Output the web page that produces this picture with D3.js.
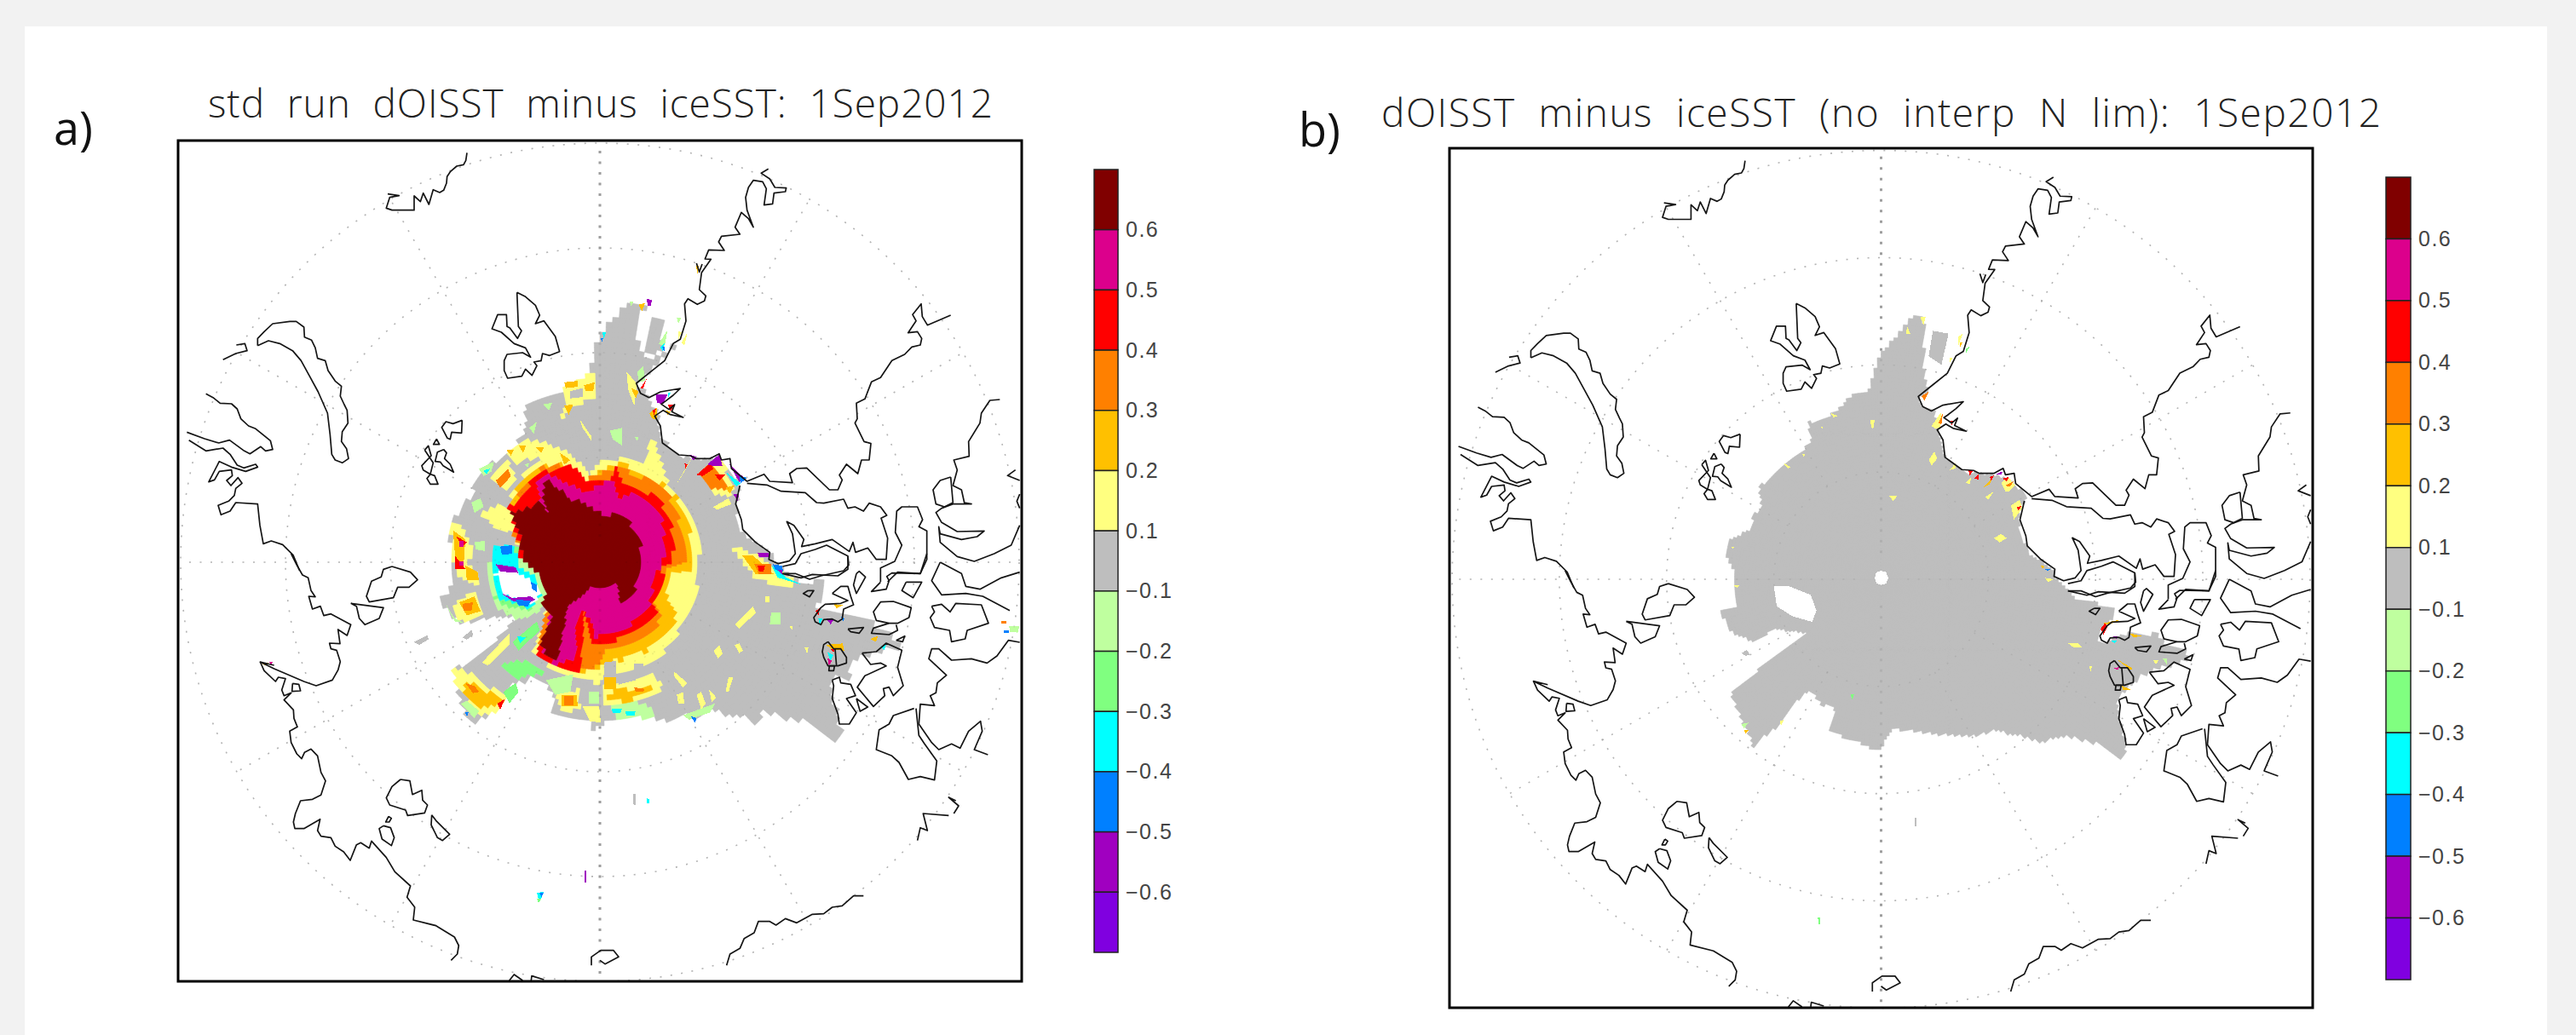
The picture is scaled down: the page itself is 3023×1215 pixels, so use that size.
<!DOCTYPE html>
<html>
<head>
<meta charset="utf-8">
<script src="https://cdn.jsdelivr.net/npm/d3@7"></script>
<style>
  body { margin: 0; background: #f2f2f2; }
  svg { display: block; }
</style>
</head>
<body>
<svg id="chart" width="3023" height="1215"></svg>
<script>
// colour bins of the bar, top to bottom
var binColors = ["#800000", "#dc008c", "#ff0000", "#ff8000", "#ffc000", "#ffff80", "#bebebe",
                 "#bfff9f", "#80ff80", "#00ffff", "#0080ff", "#a000c0", "#8000e0"];
var tickLabels = ["0.6", "0.5", "0.4", "0.3", "0.2", "0.1", "\u22120.1", "\u22120.2", "\u22120.3", "\u22120.4", "\u22120.5", "\u22120.6"];
var M = 0, P = 1, R = 2, O = 3, A = 4, Y = 5, G = 6, L = 7, N = 8, C = 9, B = 10, V = 11, U = 12;
var NONE = -1; // no data, stays white

var ringLats = [80, 70, 60, 50];
var meridians = [0, 30, 60, 90, 120, 150, 180, 210, 240, 270, 300, 330];

var titleA = "std  run  dOISST  minus  iceSST:  1Sep2012";
var titleB = "dOISST  minus  iceSST  (no  interp  N  lim):  1Sep2012";

var coastNW = [
  [1044,58,1040,85,1032,100,1008,105,985,125,974,142,972,165,962,190,948,198,925,188,910,240,890,200,880,230,858,210,858,260,780,260,760,253,772,215,805,209,765,203],
  [185,787,230,765,270,755,262,730,232,735],
  [307,737,307,712,330,688,360,660,420,652,443,652,470,672,472,707,497,718,510,745,518,782,545,790,555,825,580,862,602,880,598,915,612,945,622,965,625,1010,605,1040,602,1075,620,1100,627,1135,605,1150,580,1140,568,1120,562,1050,553,975,520,900,490,845,460,790,430,755,385,730,345,720,307,737],
  [125,907,150,920,175,940,215,942,235,960,248,995,275,1020,300,1030,352,1072,360,1103,335,1108,318,1093,280,1118,260,1108,208,1070,170,1080,120,1065,58,1042],
  [65,1070,125,1108,185,1098,210,1120,235,1158,258,1168,300,1155,307,1165,265,1180,215,1165,172,1145,135,1217,155,1210,172,1180,215,1175,218,1195,198,1212,213,1230,238,1202,252,1222,230,1240,225,1265,205,1285,168,1300,178,1333,210,1320,230,1290,307,1295,315,1370,327,1435,355,1425,395,1438,432,1475,455,1530],
  [1220,550,1225,670,1236,685,1222,712,1195,675,1185,670,1183,628,1152,628,1132,678,1165,690,1210,730,1250,745,1268,778,1240,762,1185,768,1175,790,1175,825,1187,852,1237,845,1250,820,1273,842,1290,808,1280,795,1305,790,1310,765,1335,772,1370,758,1355,705,1315,650,1285,660,1300,630,1285,595,1250,565,1220,550],
  [1027,1000,1025,1045,990,1042,985,1067,975,1063,955,1025,970,1005,995,1012,1027,1000],
  [937,1066,947,1085,926,1085,937,1066],
  [895,1105,908,1090,918,1125,885,1160,890,1175,915,1190,903,1205,915,1225,942,1225,930,1195,915,1190,925,1150,895,1105],
  [962,1103,972,1115,965,1135,985,1155,997,1183,960,1160,950,1147,932,1145,940,1112,962,1103]
];
var coastSW = [
  [425,0,445,40,465,75,485,85,495,130,510,152,487,150,500,195,528,185,540,218,565,212,635,250,622,288,590,267,597,317,560,315,565,335,585,340,598,380,590,410,570,445,513,465,470,450,365,405,316,381,365,393],
  [316,381,330,412,370,450,380,435,405,440,392,480,400,500,425,490,400,515,433,550,435,580,447,610,420,625,425,665,445,705,462,722,472,700,495,688,518,712,530,770,546,800,530,850,500,865,458,870,440,915,433,945,438,968,470,968,527,935,518,975,530,995,565,1000,580,1030,610,1050,633,1080,655,1025,670,1018,700,1037,708,1012,760,1070,790,1120,845,1170,833,1210,860,1245,855,1290,935,1310,1000,1350,1015,1380,1010,1410,988,1432],
  [430,457,452,460,458,483,428,485,430,457],
  [780,45,845,65,870,92,840,118,800,118,785,155,700,170,690,150,708,97,742,82,750,55,780,45],
  [635,175,750,190,735,228,685,250,665,228,655,185,635,175],
  [810,795,843,800,852,848,885,833,888,868,905,885,895,913,835,922,828,903,772,885,760,860,780,820,810,795],
  [768,925,778,932,770,945,758,945,768,925],
  [750,958,775,965,788,1000,778,1028,745,1005,735,968,750,958],
  [920,920,935,940,983,988,958,1010,940,1000,918,955,920,920],
  [1193,1503,1210,1482,1240,1503],
  [1270,1503,1272,1487,1315,1500],
  [1482,1450,1482,1420,1515,1397,1560,1397,1578,1420,1530,1445,1512,1432]
];
var coastNE = [
  [605,115,580,130,610,150,628,180,668,182,665,195,625,200,620,238,590,242,598,185,585,160,552,155,535,180,525,215,530,260,552,320,535,290,510,268,488,320,505,345,440,352,430,372,450,402,395,400,382,432,403,433,370,480,362,540,385,562,380,580,355,592,322,572,310,590,315,650,295,715,270,730,240,790,190,830,140,870,155,905,185,920,225,900,295,888,270,912,240,935,228,943,255,962,275,945,265,970,305,990,260,980,235,965,205,985,225,1020,232,1080,290,1122,330,1125,350,1135,400,1135,432,1118,440,1140,470,1135,475,1170,530,1215,590,1190,610,1215,690,1220,680,1188,705,1170,740,1168,820,1245,850,1245,865,1210,855,1193,880,1155,920,1188,933,1140,960,1140,966,1082,942,1075,910,1010,918,995,915,940,945,925,968,865,1000,850,1040,790,1085,768,1110,742,1140,735,1145,712,1130,688,1097,692,1125,650,1113,628,1143,590,1147,635,1165,665,1247,630],
  [352,447,362,478,372,450],
  [530,1222,600,1228,650,1250,735,1255,775,1290,800,1292,870,1278,885,1310,910,1305,940,1320,960,1292,1000,1305,1022,1335,1002,1345,1025,1415,1020,1490,985,1490,955,1450,912,1465,903,1430,890,1462,830,1420,770,1435,722,1445,730,1420,695,1370,670,1357,690,1400,700,1470,680,1495,640,1505,607,1490,610,1465,560,1430,515,1385,510,1350,490,1295,505,1230],
  [655,1515,700,1505,720,1470,770,1455,810,1440,885,1478,888,1510,870,1530,790,1548,750,1560,700,1540,655,1540],
  [1000,1569,1000,1520,1050,1497,1075,1440,1052,1395,1057,1320,1075,1305,1130,1305,1148,1350,1135,1375,1163,1390,1163,1490,1140,1540,1060,1535,1025,1569],
  [1420,927,1385,930,1355,975,1350,1010,1310,1075,1312,1127,1258,1140,1270,1175,1255,1230,1285,1245,1295,1290,1320,1295,1255,1295,1215,1310,1195,1325,1215,1360,1270,1392,1365,1390,1340,1410,1285,1420,1210,1400,1205,1375,1210,1430,1270,1480,1330,1497,1400,1470,1460,1440,1490,1370],
  [1247,1200,1210,1212,1185,1245,1195,1295,1225,1305,1255,1290,1247,1200],
  [1490,1212,1447,1195,1475,1175],
  [1490,1260,1480,1285,1490,1310]
];
var coastSE = [
  [1000,100,968,133,1020,125,1030,95,1022,80,1040,68,1140,70,1163,0],
  [655,70,720,85,760,73,850,78,885,55,885,10],
  [915,70,925,62,947,82,915,140,905,110,915,70],
  [1090,100,1145,100,1115,155,1075,130,1090,100],
  [1210,30,1285,70,1300,115,1350,125,1425,85,1490,65],
  [1210,30,1180,95,1215,145,1300,140,1360,150,1455,200],
  [1180,185,1215,178,1245,205,1265,175,1355,180,1380,245,1305,270,1298,300,1250,310,1243,270,1190,260,1175,225,1190,205,1180,185],
  [1490,312,1450,305,1410,360,1375,385,1320,370,1250,375,1205,335,1180,335,1170,370,1232,428,1200,455,1195,490,1175,500,1190,535,1140,530,1135,600,1180,665,1205,690,1250,670,1280,685,1310,625,1352,590,1358,625,1330,690,1378,708],
  [1118,545,1045,570,1030,600,995,620,985,690,1040,712,1065,735,1098,795,1140,785,1190,797,1198,730,1155,670,1135,640,1125,545],
  [830,140,860,115,885,115,895,150,905,180,870,195,865,230,850,240,830,230,800,232,790,250,770,240,765,225,790,190,805,178,860,175,885,165,830,140],
  [745,130,765,130,750,152,728,140,745,130],
  [1030,245,985,235,975,205,1000,170,1045,168,1108,190,1100,225,1060,245,1030,245],
  [1030,245,975,262,968,280,1030,285,1060,270,1055,250],
  [885,265,940,260,925,280,895,275,885,265],
  [1055,305,1085,290,1078,310,1055,305],
  [935,350,985,345,1020,315,1075,340,1060,400,1080,465,1045,500,1030,470,1010,475,1015,500,975,538,918,470,945,430,1020,395,1000,385,965,390,935,350],
  [815,310,835,335,860,335,880,365,880,385,850,395,815,395,800,365,795,345,800,320,815,310],
  [840,335,845,395],
  [820,395,838,395,835,412,818,412,820,395],
  [830,445,855,435,860,455,895,460,912,500,880,510,915,560,890,600,855,600,850,565,830,510,835,465,830,445],
  [915,510,955,540,928,555,915,510],
  [458,1450,470,1410,505,1390,520,1355,555,1335,570,1295,610,1295,632,1308,665,1285,705,1300,760,1270,800,1268,830,1245,865,1240,905,1205,940,1205],
  [1130,1010,1140,965,1165,975,1150,915,1240,922],
  [1265,870,1240,858,1275,888,1258,915]
];

var fieldA = [
  [G, [725,70,775,75,768,105,750,180,760,240,785,260,810,262,830,245,880,215,905,170,900,190,810,290,750,345,790,400,815,450,830,540,880,590,900,600,1000,610,1090,680,1075,780,1100,870,1180,920,1230,990,1300,1035,1362,1016,1367,1065,1334,1113,1437,1132,1493,1137,1535,1171,1628,1239,1614,1253,1535,1258,1474,1287,1437,1326,1446,1355,1390,1355,1386,1403,1414,1510,1423,1548,1400,1563,1362,1529,1288,1500,1213,1481,1162,1466,1138,1515,1101,1486,1054,1481,1008,1457,950,1490,900,1480,850,1495,760,1490,700,1490,660,1500,640,1510,620,1520,600,1540,590,1490,520,1480,460,1470,480,1420,465,1390,440,1375,400,1350,380,1370,340,1370,310,1440,240,1490,215,1525,170,1440,140,1330,240,1270,310,1200,355,1145,250,1150,165,1170,120,1110,90,1075,130,1060,150,1000,130,830,200,740,240,640,320,590,380,520,385,420,510,370,590,320,610,240,625,190,680,120]],
  [NONE, [770,195,795,120,845,125,825,245,835,250,790,262,760,240]],
  [G, [795,120,845,125,825,245,780,240]],
  [G, [175,1215,205,1190,212,1205,190,1222]],
  [G, [15,1230,60,1208,65,1220,35,1240]],
  [G, [736,1748,744,1748,744,1786,738,1786]],
  // main bullseye
  [Y, [320,780,340,720,380,660,440,610,520,590,560,620,590,660,640,610,720,605,770,630,800,530,835,640,850,690,900,740,940,830,955,920,950,1000,940,1100,900,1170,850,1250,800,1300,700,1335,640,1345,620,1375,560,1345,480,1330,410,1260,450,1140,420,1060,370,960,350,880,340,850]],
  [A, [370,680,420,630,520,625,580,680,640,640,705,620,760,660,830,690,880,740,915,820,935,920,920,990,855,990,845,1080,880,1130,870,1170,830,1220,780,1260,700,1290,640,1300,620,1330,560,1330,480,1320,420,1270,450,1130,420,1020,350,880,320,780]],
  [O, [350,750,390,680,440,635,520,625,555,660,580,680,660,640,700,640,760,670,810,680,840,705,880,790,905,880,905,960,850,975,835,1050,805,1095,830,1150,800,1190,740,1230,640,1260,625,1310,590,1320,570,1320,480,1320,420,1270,450,1130,420,1020,350,880,320,790]],
  [R, [320,780,350,755,390,720,410,660,500,640,545,630,580,680,660,690,680,640,700,690,760,710,820,740,855,810,870,880,865,960,835,970,830,1060,800,1090,815,1140,780,1170,720,1205,640,1240,600,1240,575,1115,570,1230,560,1330,480,1320,420,1265,470,1140,430,1100,450,1070,440,1020,360,950,360,880,340,820]],
  [P, [420,680,460,660,540,700,580,720,640,690,670,680,690,740,740,720,790,760,830,800,840,900,835,960,810,1000,790,1090,800,1110,760,1130,730,1170,690,1195,640,1200,610,1215,605,1170,570,1115,545,1180,550,1250,540,1290,480,1305,440,1260,460,1140,430,1090,445,1060,440,1020,370,960,370,880,345,800,400,770,430,750]],
  [M, [450,670,465,690,480,700,495,715,510,720,530,745,560,750,570,760,600,770,610,790,650,795,680,800,720,810,730,840,740,860,750,880,760,900,765,960,755,990,745,1020,740,1075,720,1090,695,1100,690,1060,680,1020,660,1035,620,1040,600,1040,570,1070,520,1110,510,1170,500,1220,490,1280,480,1300,450,1270,430,1240,460,1170,470,1140,430,1100,445,1070,440,1020,370,960,370,880,345,810,340,790,400,770,430,750,465,805,440,750]],
  // light green and cyan around the hole
  [L, [262,960,275,1080,300,1120,360,1150,430,1130,450,1060,420,990,370,950,350,905,295,900,280,945]],
  [N, [270,975,285,1080,320,1110,400,1120,430,1075,405,1010,365,975,355,905,295,900,285,960]],
  [C, [285,905,345,900,360,975,420,1010,430,1075,405,1115,350,1100,305,1085,280,1055,275,980]],
  [NONE, [300,985,350,990,400,1020,435,1060,410,1100,350,1085,300,1060,285,1000]],
  // patches left of the bullseye
  [Y, [130,830,160,830,200,880,205,930,190,960,230,1000,230,1040,180,1020,150,985,145,900]],
  [A, [145,850,185,880,180,960,150,980,150,920]],
  [R, [155,870,190,890,175,905]],
  [R, [150,935,185,980,150,980]],
  [P, [165,885,178,885,178,905,165,905]],
  [P, [165,955,178,955,178,970,165,970]],
  [A, [185,970,225,990,230,1020,190,1020]],
  [Y, [150,1100,210,1060,250,1130,190,1165,150,1140]],
  [A, [165,1095,215,1075,235,1125,190,1140]],
  [O, [175,1100,210,1095,205,1125,180,1125]],
  [Y, [235,790,300,760,340,790,345,850,290,850]],
  [Y, [270,680,320,610,360,680,320,720]],
  [O, [285,680,325,640,335,665,300,705]],
  [Y, [320,590,370,545,430,545,520,580,545,620,470,610,420,600,380,610,345,620]],
  [A, [360,560,385,560,375,585]],
  [A, [415,565,445,565,435,585]],
  [A, [495,585,530,610,510,625]],
  [A, [320,575,345,575,335,595]],
  [L, [230,640,280,615,270,650,245,665]],
  [C, [245,645,265,640,255,660]],
  [L, [380,625,395,620,390,635]],
  [L, [205,755,235,740,245,770,215,790]],
  [L, [120,1100,150,1150,180,1165,150,1160]],
  [L, [215,890,250,885,250,920,220,915]],
  [L, [395,500,420,480,410,520]],
  [C, [295,905,340,905,355,960,295,960]],
  [B, [300,905,340,900,340,930,305,932]],
  [V, [285,965,350,975,360,995,300,990]],
  [V, [305,1065,340,1080,400,1075,415,1085,390,1100,340,1090]],
  [B, [350,1085,400,1090,390,1110,360,1105]],
  [B, [400,1025,420,1035,420,1060,405,1050]],
  // patches above the bullseye
  [Y, [500,370,610,310,620,400,540,420,500,470,520,390]],
  [A, [510,345,555,340,555,360,515,365]],
  [A, [575,355,610,345,605,375,580,375]],
  [A, [510,425,540,420,525,455]],
  [G, [530,375,570,365,570,395,530,400]],
  [Y, [560,470,600,530,600,545,570,500]],
  [Y, [715,310,750,350,740,425,720,370]],
  [A, [730,365,755,375,745,400]],
  [R, [760,365,780,335,770,365]],
  [L, [660,510,700,500,700,560,670,540]],
  [L, [750,310,770,290,775,340,755,345]],
  [L, [740,530,755,530,750,545]],
  [L, [440,420,470,415,460,440]],
  [C, [635,175,648,175,640,195]],
  [B, [630,195,638,195,634,208]],
  [L, [820,215,850,165,840,220]],
  [C, [825,225,840,210,835,240]],
  [B, [832,225,842,222,838,240]],
  [Y, [885,170,895,175,885,200]],
  [L, [880,125,895,125,885,145]],
  [Y, [895,210,915,175,905,220]],
  [A, [755,80,775,75,765,105]],
  [L, [725,70,738,70,730,85]],
  [V, [780,60,798,65,795,85,785,85]],
  [A, [943,-52,952,-52,948,-26]],
  // coast east of the top
  [A, [790,450,815,430,815,470,800,470]],
  [R, [800,440,812,435,805,455]],
  [V, [810,385,850,385,835,420,815,415]],
  [C, [850,380,860,380,850,400]],
  [R, [850,420,870,420,860,445]],
  [A, [840,440,860,445,850,455]],
  [V, [920,590,945,600,935,612]],
  [Y, [880,690,930,600,905,650]],
  [R, [905,620,915,625,908,640]],
  [Y, [950,660,1020,610,1075,700,1060,730,1000,730]],
  [O, [945,660,995,625,1050,700,1040,715,1000,710]],
  [R, [945,660,990,620,1000,640,965,665]],
  [R, [1005,660,1040,660,1020,680]],
  [A, [1040,705,1070,695,1055,725]],
  [Y, [1000,770,1050,740,1060,760,1010,780]],
  [V, [980,625,1020,590,1030,630,1000,630]],
  [V, [1050,620,1100,670,1085,685]],
  [C, [1040,650,1090,690,1075,700]],
  [B, [1085,665,1110,670,1090,690]],
  [V, [1065,725,1085,725,1080,750]],
  // east coast patch
  [Y, [1060,900,1130,930,1230,1000,1290,1035,1200,1040,1140,1010,1095,960]],
  [A, [1095,935,1130,935,1200,1000,1140,1000]],
  [O, [1135,965,1190,965,1190,1000,1150,1000]],
  [R, [1145,970,1170,970,1165,990,1150,990]],
  [C, [1190,965,1240,1010,1290,1035,1210,1010]],
  [B, [1195,965,1225,970,1230,990,1205,985]],
  [V, [1145,925,1180,925,1185,940,1150,940]],
  [V, [1212,985,1228,985,1225,998]],
  // east speckles
  [Y, [1070,1170,1130,1110,1140,1130,1085,1185]],
  [L, [1190,1130,1220,1130,1220,1170,1185,1170]],
  [Y, [1170,1075,1185,1075,1185,1095,1170,1095]],
  [Y, [1000,1260,1020,1240,1030,1270,1015,1285]],
  [Y, [1070,1240,1085,1235,1098,1260,1085,1268]],
  [Y, [870,1330,915,1370,900,1385,870,1345]],
  [Y, [960,1400,975,1440,960,1460,945,1410]],
  [Y, [985,1390,1010,1420,995,1435]],
  [Y, [1050,1350,1065,1350,1050,1400,1040,1400]],
  [Y, [1250,1175,1262,1175,1258,1190]],
  [Y, [1300,1250,1312,1250,1308,1270]],
  [Y, [880,1410,900,1400,905,1440,885,1440]],
  // islands on the far side
  [R, [1335,1125,1350,1115,1345,1140]],
  [C, [1345,1150,1360,1150,1350,1170]],
  [V, [1370,1150,1395,1155,1385,1170]],
  [A, [1395,1100,1425,1105,1405,1115]],
  [B, [1420,1145,1432,1150,1425,1160]],
  [A, [1370,1240,1425,1235,1430,1260,1390,1255]],
  [C, [1375,1265,1395,1275,1385,1295]],
  [P, [1375,1285,1390,1295,1380,1310]],
  [R, [1385,1255,1400,1255,1395,1265]],
  [A, [1515,1220,1540,1210,1535,1230]],
  [C, [1550,1245,1568,1240,1562,1258]],
  [O, [1946,1160,1962,1160,1962,1167,1946,1167]],
  [B, [1955,1190,1972,1190,1972,1198,1955,1198]],
  [L, [1972,1176,2006,1176,2000,1198,1975,1196]],
  // lobes below the bullseye
  [G, [690,1340,740,1330,745,1360,690,1375]],
  [G, [640,1300,680,1295,680,1340,640,1345]],
  [G, [740,1305,770,1305,770,1335,740,1335]],
  [Y, [640,1380,700,1370,800,1340,835,1385,770,1425,640,1440]],
  [A, [640,1405,800,1380,810,1395,720,1430,650,1435]],
  [A, [640,1350,680,1350,680,1390,640,1390]],
  [O, [740,1385,775,1390,770,1400,745,1400]],
  [Y, [140,1330,170,1320,320,1420,290,1470,220,1475,160,1380]],
  [A, [180,1370,210,1370,310,1430,290,1450,230,1460,185,1400]],
  [O, [185,1370,215,1380,230,1400,210,1405]],
  [R, [290,1440,315,1425,300,1460]],
  [L, [170,1440,215,1490,230,1465,190,1430]],
  [B, [185,1470,195,1470,190,1485]],
  [Y, [240,1300,330,1200,330,1240,260,1310]],
  [N, [310,1310,390,1290,440,1340,380,1350,340,1350]],
  [N, [310,1400,350,1370,360,1400,330,1440]],
  [N, [340,1230,420,1160,430,1190,360,1260]],
  [C, [355,1210,385,1215,365,1235]],
  [Y, [475,1400,560,1395,560,1465,500,1460]],
  [A, [500,1410,550,1410,555,1450,500,1450]],
  [O, [510,1415,540,1415,540,1445,510,1445]],
  [L, [450,1360,540,1340,530,1400,480,1410]],
  [Y, [570,1450,625,1450,630,1505,595,1500]],
  [L, [590,1400,625,1400,625,1440,590,1440]],
  [L, [660,1450,780,1435,810,1490,690,1490]],
  [C, [665,1458,700,1458,695,1472,670,1472]],
  [C, [710,1465,745,1465,740,1482,715,1482]],
  [L, [900,1480,1005,1440,990,1470,920,1495]],
  [B, [925,1483,945,1490,940,1505]],
  // lone points further out
  [V, [577,2010,583,2010,583,2050,577,2050]],
  [C, [420,2085,442,2082,435,2105,425,2105]],
  [B, [428,2085,442,2085,435,2100]],
  [N, [420,2105,435,2105,425,2120]],
  [C, [780,1763,790,1765,790,1780,782,1780]],
  [A, [-485,1302,-462,1302,-470,1312]],
  [P, [-460,1298,-448,1298,-452,1310]]
];

// colour field of panel b
var fieldB = [
  [G, [660,20,672,0,700,0,715,40,712,180,720,240,735,262,695,290,710,325,750,340,755,400,775,440,790,510,840,545,870,555,960,560,1030,590,1075,640,1050,680,1050,750,1075,820,1090,850,1130,865,1170,900,1175,925,1215,960,1250,1000,1340,1020,1380,1030,1390,1050,1345,1100,1325,1140,1345,1155,1435,1120,1540,1125,1568,1165,1640,1185,1650,1215,1568,1235,1510,1255,1480,1270,1445,1300,1400,1340,1395,1400,1420,1500,1425,1545,1400,1560,1320,1510,1200,1480,1120,1510,1090,1490,1000,1470,960,1460,900,1480,800,1480,650,1460,600,1460,575,1500,555,1540,520,1520,380,1465,400,1385,350,1370,330,1340,310,1320,265,1360,200,1450,130,1500,115,1520,70,1420,35,1330,130,1250,220,1180,300,1120,190,1105,110,1150,25,1110,0,1045,50,1025,45,960,45,900,15,835,25,795,110,750,110,705,140,680,135,605,170,575,220,520,320,450,305,380,380,355,435,310,445,290,520,265,540,200,565,130,625,65]],
  [NONE, [185,955,240,955,315,985,335,1040,320,1080,250,1060,195,1025]],
  [G, [745,55,800,65,775,175,730,145]],
  [G, [72,1190,90,1178,100,1195,85,1200]],
  [G, [680,1770,688,1770,688,1800,682,1800]],
  [N, [340,2120,348,2120,348,2145,342,2145]],
  [Y, [525,370,540,370,535,400,528,395]],
  [Y, [730,510,750,480,760,505,740,530]],
  [Y, [590,635,620,635,605,655]],
  [Y, [960,785,985,770,1005,785,980,800]],
  [Y, [930,640,960,620,940,650]],
  [Y, [1220,1155,1255,1155,1270,1170,1240,1170]],
  [N, [455,1335,468,1335,460,1355]],
  [Y, [218,520,245,535,235,540]],
  [Y, [285,490,295,490,290,500]],
  [Y, [350,392,358,392,355,402]],
  [Y, [35,815,45,815,42,825]],
  [Y, [385,345,410,355,395,360]],
  [Y, [655,40,665,65,650,65]],
  [Y, [700,5,720,5,712,35]],
  [Y, [40,950,65,950,55,960]],
  [Y, [205,1430,220,1425,210,1445]],
  [Y, [835,75,850,65,835,105]],
  [A, [840,95,850,95,840,115]],
  [Y, [805,150,815,150,805,165]],
  [N, [860,120,875,110,860,135]],
  [Y, [740,390,775,340,770,395,755,400]],
  [O, [765,380,780,345,775,385]],
  [R, [808,372,818,372,812,388]],
  [O, [705,285,730,270,715,300]],
  [Y, [805,545,825,520,825,540]],
  [Y, [860,590,880,570,875,595]],
  [R, [870,545,885,548,875,565]],
  [R, [892,575,905,562,905,580]],
  [A, [925,605,960,565,945,595]],
  [R, [945,570,960,565,950,582]],
  [Y, [985,590,1010,570,1035,600,1015,620,1000,620]],
  [O, [1000,600,1030,585,1015,605]],
  [R, [990,575,1012,570,1005,585]],
  [V, [968,560,990,550,985,562]],
  [Y, [1020,670,1050,650,1060,680,1030,720]],
  [R, [1040,675,1058,672,1045,688]],
  [B, [1140,895,1160,895,1150,900]],
  [Y, [1140,925,1170,930,1150,940]],
  [A, [1125,880,1138,885,1130,892]],
  [R, [1335,1105,1350,1085,1360,1095,1345,1125]],
  [A, [1345,1085,1405,1072,1385,1082,1360,1090]],
  [C, [1370,1145,1395,1145,1385,1155]],
  [V, [1375,1130,1395,1130,1390,1140]],
  [A, [1435,1120,1480,1130,1450,1135]],
  [A, [1390,1210,1450,1245,1440,1250]],
  [P, [1380,1242,1400,1240,1395,1250]],
  [A, [1410,1305,1445,1320,1415,1320]],
  [Y, [1295,1235,1305,1235,1300,1255]],
  [A, [80,1460,100,1460,85,1472]],
  [L, [70,1440,95,1435,80,1455]],
  [Y, [1520,1215,1540,1215,1530,1230]],
  [L, [1555,1210,1568,1210,1568,1230]],
  [NONE, [563,900,580,905,588,925,580,945,563,950,546,945,540,925,546,905]]
];

function pairs(list) {
  var out = [];
  for (var i = 0; i < list.length; i += 2) { out.push([list[i], list[i + 1]]); }
  return out;
}

var svg = d3.select("#chart");

// page sheet
svg.append("rect").attr("x", 29).attr("y", 31).attr("width", 2960).attr("height", 1184).attr("fill", "#fff");

var binScale = d3.scaleOrdinal(d3.range(binColors.length), binColors);
var ringScale = d3.scaleLinear().domain([90, 50]).range([0, 492]);

// crops of panel a -> panel a pixels
var sheetX = { w: d3.scaleLinear([0, 1569], [200, 723]), e: d3.scaleLinear([0, 1569], [700, 1223]) };
var sheetY = { n: d3.scaleLinear([0, 1569], [160, 683]), s: d3.scaleLinear([0, 1569], [650, 1173]) };
var fieldAX = d3.scaleLinear([0, 1568], [480, 1040]);
var fieldAY = d3.scaleLinear([0, 1568], [330, 870]);
var fieldBX = d3.scaleLinear([0, 1569], [2020, 2543]);
var fieldBY = d3.scaleLinear([0, 1569], [370, 893]);

var coastSheets = [
  { lines: coastNW, x: sheetX.w, y: sheetY.n },
  { lines: coastSW, x: sheetX.w, y: sheetY.s },
  { lines: coastNE, x: sheetX.e, y: sheetY.n },
  { lines: coastSE, x: sheetX.e, y: sheetY.s }
];

var panels = [
  {
    frameX: [209, 1199], frameY: [165, 1152], center: [704, 660],
    field: fieldA, fx: fieldAX, fy: fieldAY, cellR: 6, cellDeg: 1.5, minArea: 500,
    title: titleA, titleX: 244, titleLen: 921, titleY: 138,
    label: "a)", labelX: 63, labelY: 170,
    barX: 1284, barW: 28, barY: [199, 1118]
  },
  {
    frameX: [1701, 2714], frameY: [174, 1183], center: [2207.5, 680],
    field: fieldB, fx: fieldBX, fy: fieldBY, cellR: 4, cellDeg: 1, minArea: 1500,
    title: titleB, titleX: 1621, titleLen: 1173, titleY: 149,
    label: "b)", labelX: 1524, labelY: 172,
    barX: 2800, barW: 29, barY: [208, 1150]
  }
];

panels.forEach(function(p) {
  var g = svg.append("g");
  var x = d3.scaleLinear().domain(panels[0].frameX).range(p.frameX);
  var y = d3.scaleLinear().domain(panels[0].frameY).range(p.frameY);
  var k = (p.frameX[1] - p.frameX[0]) / (panels[0].frameX[1] - panels[0].frameX[0]);
  var rad = d3.scaleLinear().domain([0, 360]).range([0, 2 * Math.PI]);

  function graticule(layer, axisColor, ringColor, opacity) {
    var grid = layer.append("g").attr("fill", "none").attr("stroke-opacity", opacity);
    grid.selectAll("circle").data(ringLats).enter().append("circle")
      .attr("cx", p.center[0]).attr("cy", p.center[1])
      .attr("r", function(d) { return ringScale(d) * k; })
      .attr("stroke", ringColor).attr("stroke-width", 1.6).attr("stroke-dasharray", "2 10.5");
    grid.selectAll("line").data(meridians).enter().append("line")
      .attr("x1", function(d) { var r = d % 90 == 0 ? 30 : ringScale(80); return p.center[0] + r * k * Math.sin(rad(d)); })
      .attr("y1", function(d) { var r = d % 90 == 0 ? 30 : ringScale(80); return p.center[1] - r * k * Math.cos(rad(d)); })
      .attr("x2", function(d) { return p.center[0] + ringScale(50) * k * Math.sin(rad(d)); })
      .attr("y2", function(d) { return p.center[1] - ringScale(50) * k * Math.cos(rad(d)); })
      .attr("stroke", function(d) { return d == 0 || d == 180 ? axisColor : ringColor; })
      .attr("stroke-width", function(d) { return d == 0 || d == 180 ? 3 : 1.6; })
      .attr("stroke-dasharray", function(d) { return d == 0 || d == 180 ? "3 9.5" : "2 10.5"; });
  }

  graticule(g, "#aaa", "#c2c2c2", 1);

  var toPage = function(list) {
    return pairs(list).map(function(d) { return [p.fx(d[0]), p.fy(d[1])]; });
  };

  // the big shapes go onto the polar grid of the data, small ones stay as they are
  var shapes = p.field.map(function(d) {
    var pts = toPage(d[1]);
    return { bin: d[0], pts: pts, area: Math.abs(d3.polygonArea(pts)),
             x: d3.extent(pts, function(q) { return q[0]; }),
             y: d3.extent(pts, function(q) { return q[1]; }) };
  });
  var big = shapes.filter(function(s) { return s.area >= p.minArea; });
  var small = shapes.filter(function(s) { return s.area < p.minArea; });

  var cellPaths = binColors.map(function() { return d3.path(); });
  var ringCount = Math.floor(ringScale(50) * k / p.cellR);
  var sectorCount = Math.round(360 / p.cellDeg);
  for (var ri = 0; ri < ringCount; ri++) {
    for (var ti = 0; ti < sectorCount; ti++) {
      var r = (ri + 0.5) * p.cellR;
      var t = rad((ti + 0.5) * p.cellDeg);
      var cx = p.center[0] + r * Math.sin(t);
      var cy = p.center[1] - r * Math.cos(t);
      var hit = null;
      for (var si = big.length - 1; si >= 0; si--) {
        var s = big[si];
        if (cx < s.x[0] || cx > s.x[1] || cy < s.y[0] || cy > s.y[1]) continue;
        if (d3.polygonContains(s.pts, [cx, cy])) { hit = s; break; }
      }
      if (!hit || hit.bin == NONE) continue;
      var r0 = ri * p.cellR, r1 = (ri + 1) * p.cellR;
      var t0 = rad(ti * p.cellDeg), t1 = rad((ti + 1) * p.cellDeg);
      var path = cellPaths[hit.bin];
      path.moveTo(p.center[0] + r0 * Math.sin(t0), p.center[1] - r0 * Math.cos(t0));
      path.lineTo(p.center[0] + r1 * Math.sin(t0), p.center[1] - r1 * Math.cos(t0));
      path.lineTo(p.center[0] + r1 * Math.sin(t1), p.center[1] - r1 * Math.cos(t1));
      path.lineTo(p.center[0] + r0 * Math.sin(t1), p.center[1] - r0 * Math.cos(t1));
      path.closePath();
    }
  }

  var order = [G, L, N, C, B, V, U, Y, A, O, R, P, M];
  g.append("g").selectAll("path").data(order).enter().append("path")
    .attr("d", function(d) { return cellPaths[d].toString(); })
    .attr("fill", function(d) { return binScale(d); })
    .attr("stroke", function(d) { return binScale(d); })
    .attr("stroke-width", 0.6);

  var line = d3.line();
  g.append("g").selectAll("path").data(small).enter().append("path")
    .attr("d", function(d) { return line(d.pts) + "Z"; })
    .attr("fill", function(d) { return d.bin == NONE ? "#fff" : binScale(d.bin); })
    .attr("shape-rendering", "crispEdges");

  graticule(g, "#000", "#000", 0.07);

  // same coastline in both panels
  coastSheets.forEach(function(c) {
    var coastLine = d3.line()
      .x(function(d) { return x(c.x(d[0])); })
      .y(function(d) { return y(c.y(d[1])); });
    g.append("g").selectAll("path").data(c.lines).enter().append("path")
      .attr("d", function(d) { return coastLine(pairs(d)); })
      .attr("fill", "none").attr("stroke", "#151515").attr("stroke-width", 1.7)
      .attr("stroke-linejoin", "round");
  });

  g.append("rect")
    .attr("x", p.frameX[0]).attr("y", p.frameY[0])
    .attr("width", p.frameX[1] - p.frameX[0]).attr("height", p.frameY[1] - p.frameY[0])
    .attr("fill", "none").attr("stroke", "#000").attr("stroke-width", 3);

  g.append("text").text(p.title)
    .attr("x", p.titleX).attr("y", p.titleY)
    .attr("textLength", p.titleLen).attr("lengthAdjust", "spacing")
    .attr("xml:space", "preserve").style("white-space", "pre")
    .attr("font-family", "'Open Sans', sans-serif").attr("font-weight", 300)
    .attr("font-size", 46).attr("fill", "#222");

  g.append("text").text(p.label)
    .attr("x", p.labelX).attr("y", p.labelY)
    .attr("font-family", "'Open Sans', sans-serif")
    .attr("font-size", 54).attr("fill", "#111");

  // colour bar
  var bar = d3.scaleBand().domain(d3.range(binColors.length)).range(p.barY);
  g.append("g").selectAll("rect").data(binColors).enter().append("rect")
    .attr("x", p.barX).attr("y", function(d, i) { return bar(i); })
    .attr("width", p.barW).attr("height", bar.bandwidth())
    .attr("fill", function(d) { return d; })
    .attr("stroke", "#222").attr("stroke-width", 1.5);

  var tickScale = d3.scalePoint().domain(tickLabels)
    .range([p.barY[0] + bar.bandwidth(), p.barY[1] - bar.bandwidth()]);
  var axis = g.append("g")
    .attr("transform", "translate(" + (p.barX + p.barW) + ",0)")
    .call(d3.axisRight(tickScale).tickSize(0).tickPadding(9));
  axis.select(".domain").remove();
  axis.selectAll("text")
    .attr("font-family", "'Liberation Sans', sans-serif")
    .attr("font-size", 25).attr("fill", "#444")
    .attr("letter-spacing", 1.5);
});
</script>
</body>
</html>
